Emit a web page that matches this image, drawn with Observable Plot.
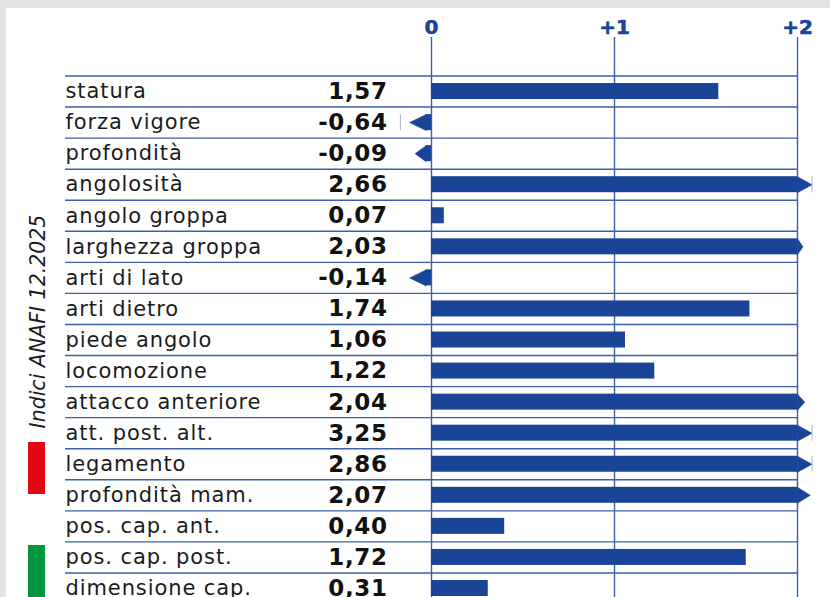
<!DOCTYPE html>
<html>
<head>
<meta charset="utf-8">
<script src="https://cdn.jsdelivr.net/npm/d3@7"></script>
<script src="https://cdn.jsdelivr.net/npm/@observablehq/plot@0.6"></script>
<style>
  html, body { margin: 0; padding: 0; background: #e3e3e3; }
  #chart { width: 830px; height: 597px; overflow: hidden; }
  svg { display: block; }
</style>
</head>
<body>
<div id="chart"></div>
<script>
// ---- data ----
const labels = [
  "statura", "forza vigore", "profondità", "angolosità", "angolo groppa",
  "larghezza groppa", "arti di lato", "arti dietro", "piede angolo", "locomozione",
  "attacco anteriore", "att. post. alt.", "legamento", "profondità mam.",
  "pos. cap. ant.", "pos. cap. post.", "dimensione cap."
];
const values = [1.57, -0.64, -0.09, 2.66, 0.07, 2.03, -0.14, 1.74, 1.06, 1.22, 2.04, 3.25, 2.86, 2.07, 0.40, 1.72, 0.31];
const tickValues = [0, 1, 2];
const tickLabels = ["0", "+1", "+2"];
const sideNote = "Indici ANAFI 12.2025";

// ---- styling constants ----
const BLUE = "#1a4496";
const LINE = "#3d5ea9";
const FONT = "DejaVu Sans";
const ROW_PX = 31.06;
const HALF = 8 / ROW_PX; // half bar height in row units

const rows = labels.map((label, i) => {
  const v = values[i];
  const base = v > 2 ? 2 : v < 0 ? -0.03 : v;
  return {
    label, value: v, i, base,
    tip: Math.max(-0.12, Math.min(2.08, v)),
    arrow: v > 2 || v < 0,
    marker: v > 2.08 || v < -0.17,
    markerX: v > 0 ? 2.08 : -0.17
  };
});
const tri = rows.filter(r => r.arrow).flatMap(r => [
  {row: r.i, x: r.base, y: r.i + 0.5 - HALF},
  {row: r.i, x: r.tip, y: r.i + 0.5},
  {row: r.i, x: r.base, y: r.i + 0.5 + HALF}
]);
const fmt = v => d3.format(".2f")(v).replace("−", "-").replace(".", ",");

const plot = Plot.plot({
  width: 830,
  height: 597,
  marginTop: 37,
  marginBottom: 0,
  marginLeft: 0,
  marginRight: 0,
  style: {background: "transparent", fontFamily: FONT},
  x: {domain: [-2, 2], range: [65, 797], axis: null},
  y: {domain: [0, 17], range: [75.5, 75.5 + 17 * ROW_PX], axis: null},
  marks: [
    Plot.ruleY(d3.range(18), {x1: () => -2, x2: () => 2, y: d => d, stroke: LINE, strokeWidth: 1.4}),
    Plot.ruleX(tickValues, {x: d => d, stroke: LINE, strokeWidth: 1.4}),
    Plot.text(tickValues, {x: d => d, text: (d, i) => tickLabels[i], frameAnchor: "top", lineAnchor: "middle", dy: -10,
      fill: BLUE, fontWeight: "bold", fontSize: 20, stroke: BLUE, strokeWidth: 0.6}),
    Plot.rect(rows, {x1: () => 0, x2: "base", y1: d => d.i + 0.5 - HALF, y2: d => d.i + 0.5 + HALF, fill: BLUE}),
    Plot.line(tri, {x: "x", y: "y", z: "row", fill: BLUE, stroke: BLUE, strokeWidth: 0.5, curve: "linear-closed"}),
    Plot.ruleX(rows.filter(r => r.marker), {x: "markerX", y1: d => d.i + 0.5 - HALF, y2: d => d.i + 0.5 + HALF,
      stroke: "#a9b6d6", strokeWidth: 1}),
    Plot.text(rows, {x: () => -2, y: d => d.i + 0.5, text: "label", textAnchor: "start",
      fontSize: 21, fill: "#1b1b1b"}),
    Plot.text(rows, {x: () => 0, dx: -44, y: d => d.i + 0.5, text: d => fmt(d.value), textAnchor: "end",
      fontSize: 23, fontWeight: "bold", fill: "#111"}),
    Plot.text([sideNote], {text: d => d, frameAnchor: "left", textAnchor: "middle", dx: 38, dy: 4, rotate: -90,
      fontStyle: "italic", fontSize: 20.5, fill: "#1b1b1b"})
  ]
});

const svg = d3.select(plot);
const textGroups = svg.selectAll('g[aria-label="text"]').nodes();
// row labels and values are the 2nd and 3rd text marks
d3.select(textGroups[1]).attr("letter-spacing", 0.9);
d3.select(textGroups[2]).attr("letter-spacing", 0.6);
svg.insert("rect", ":first-child").attr("x", 6).attr("y", 8).attr("width", 824).attr("height", 589).attr("fill", "#ffffff");
svg.append("rect").attr("x", 28).attr("y", 442).attr("width", 17).attr("height", 52).attr("fill", "#e30613");
svg.append("rect").attr("x", 28).attr("y", 545).attr("width", 17).attr("height", 52).attr("fill", "#009640");

document.getElementById("chart").appendChild(plot);
</script>
</body>
</html>
